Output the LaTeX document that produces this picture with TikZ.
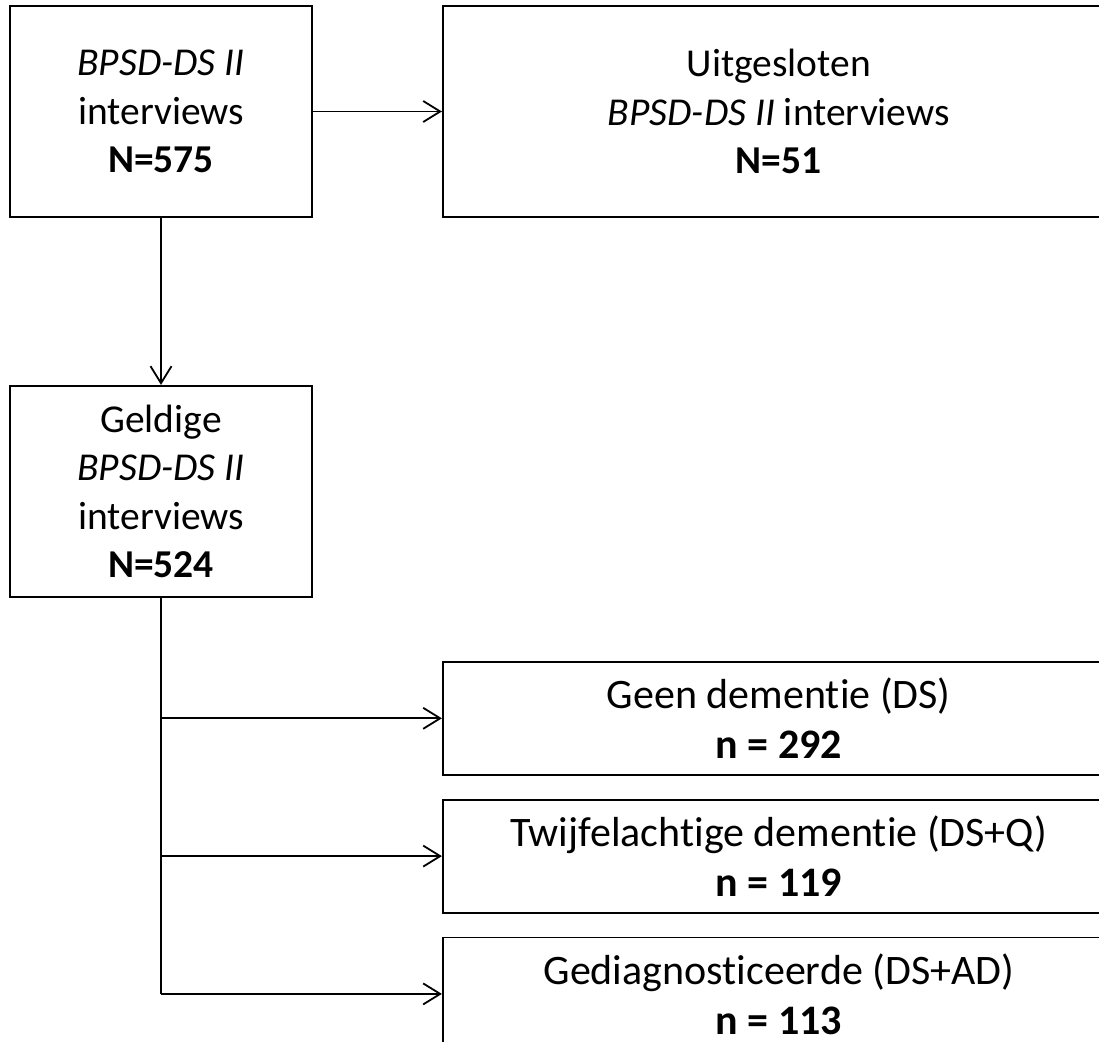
\documentclass[tikz,border=0pt]{standalone}
\usepackage{fontspec}
\setmainfont{Carlito}[Ligatures=NoCommon]
\usetikzlibrary{arrows.meta, positioning}
\tikzset{
  box/.style={
    draw,
    rectangle,
    line width=1.8pt,
    inner sep=0pt,
    align=center,
    font=\fontsize{39.5}{48.5}\selectfont,
  },
  bigbox/.style={
    box,
    minimum width=302pt,
    minimum height=211pt
  },
  widebox/.style={
    box,
    minimum width=672pt,
    minimum height=211pt
  },
  groupbox/.style={
    box,
    minimum width=672pt,
    minimum height=113pt,
    font=\fontsize{42}{50}\selectfont
  },
  arrow/.style={
    -{Straight Barb[length=17pt, width=21pt, line width=1.8pt]},
    line width=1.8pt
  }
}

\begin{document}
\begin{tikzpicture}[x=1pt, y=-1pt]

\useasboundingbox (0,0) rectangle (1099,1041);

% --- Alle interviews ---
\node[bigbox] (all) at (161,111.5) {\textit{BPSD-DS II}\\interviews\\\textbf{N=575}};

% --- Uitgesloten ---
\node[widebox, right=129pt of all] (excl) {Uitgesloten\\\textit{BPSD-DS II} interviews\\\textbf{N=51}};

% --- Geldige interviews ---
\node[bigbox, below=167pt of all] (valid) {Geldige\\\textit{BPSD-DS II}\\interviews\\\textbf{N=524}};

% --- Groepen ---
\node[groupbox, below=443pt of excl] (ds) {Geen dementie (DS)\\\textbf{n = 292}};
\node[groupbox, below=23pt of ds] (dsq) {Twijfelachtige dementie (DS+Q)\\\textbf{n = 119}};
\node[groupbox, below=23pt of dsq] (dsad) {Gediagnosticeerde (DS+AD)\\\textbf{n = 113}};

% --- Pijlen ---
\draw[arrow] (all) -- (excl);
\draw[arrow] (all) -- (valid);
\draw[line width=1.8pt] (valid.south) -- (valid.south |- dsad.west);
\draw[arrow] (valid.south |- ds.west) -- (ds.west);
\draw[arrow] (valid.south |- dsq.west) -- (dsq.west);
\draw[arrow] (valid.south |- dsad.west) -- (dsad.west);

\end{tikzpicture}
\end{document}
